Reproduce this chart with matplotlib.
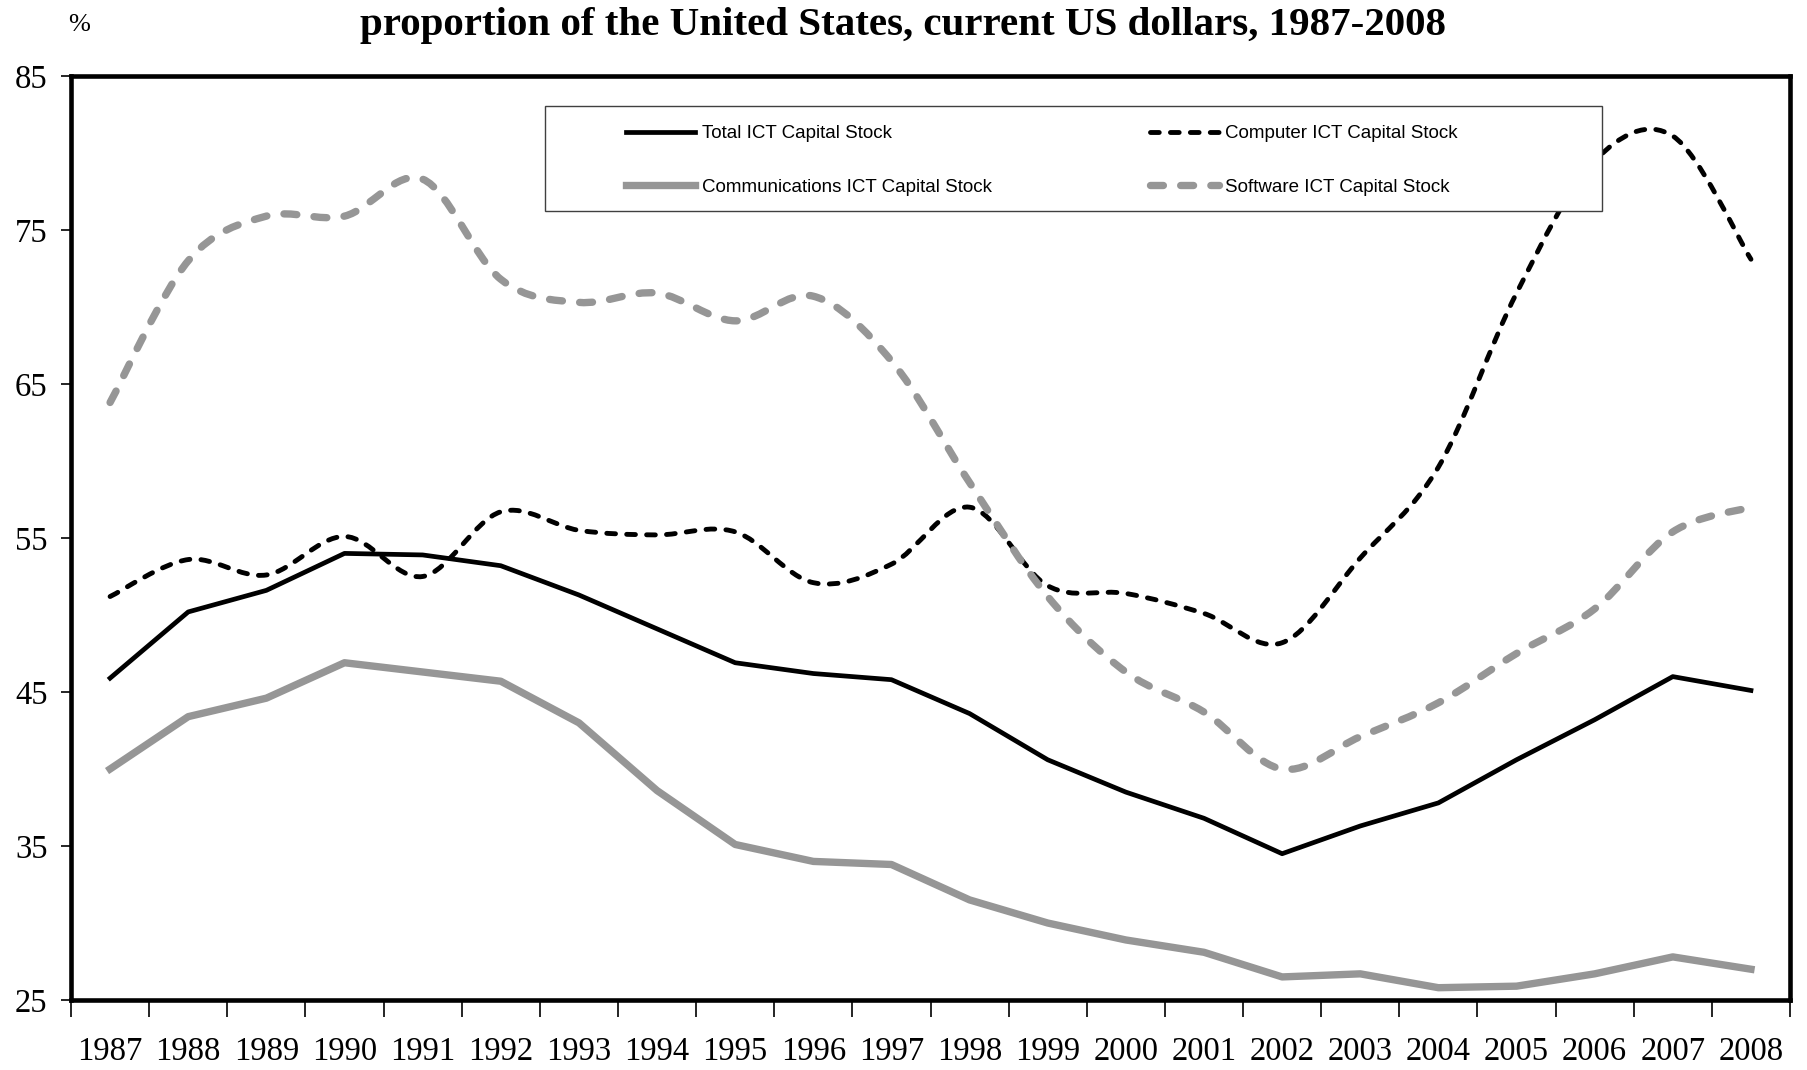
import numpy as np
import matplotlib.pyplot as plt
from matplotlib.path import Path
from matplotlib.patches import PathPatch, Rectangle
from matplotlib.lines import Line2D

# Data
years = [str(y) for y in range(1987, 2009)]
total = [45.9, 50.2, 51.6, 54.0, 53.9, 53.2, 51.3, 49.1, 46.9, 46.2, 45.8,
         43.6, 40.6, 38.5, 36.8, 34.5, 36.3, 37.8, 40.6, 43.2, 46.0, 45.1]
computer = [51.2, 53.6, 52.6, 55.1, 52.5, 56.7, 55.5, 55.2, 55.4, 52.1, 53.3,
            57.0, 51.9, 51.4, 50.1, 48.2, 53.7, 59.6, 70.9, 79.5, 81.1, 73.1]
communications = [40.0, 43.4, 44.6, 46.9, 46.3, 45.7, 43.0, 38.6, 35.1, 34.0, 33.8,
                  31.5, 30.0, 28.9, 28.1, 26.5, 26.7, 25.8, 25.9, 26.7, 27.8, 27.0]
software = [63.8, 73.0, 75.9, 75.9, 78.3, 71.8, 70.3, 70.9, 69.1, 70.7, 66.5,
            58.6, 51.2, 46.3, 43.7, 40.0, 42.1, 44.3, 47.5, 50.4, 55.4, 57.0]

grey = '#969696'


def smooth_path(xs, ys):
    # Excel-style smoothed line: cubic Bezier segments through each point
    pts = np.column_stack([xs, ys])
    n = len(pts)
    verts = [pts[0]]
    codes = [Path.MOVETO]
    for i in range(n - 1):
        p0 = pts[i - 1] if i > 0 else pts[i]
        p1 = pts[i]
        p2 = pts[i + 1]
        p3 = pts[i + 2] if i + 2 < n else pts[i + 1]
        c1 = p1 + (p2 - p0) / 6.0
        c2 = p2 - (p3 - p1) / 6.0
        verts += [c1, c2, p2]
        codes += [Path.CURVE4] * 3
    return Path(verts, codes)


fig = plt.figure(figsize=(18.07, 10.70), dpi=100)
ax = fig.add_axes([0.0393, 0.0654, 0.9513, 0.8636])

x = np.arange(len(years))

# solid series: straight segments
ax.plot(x, total, color='black', lw=3.4)
ax.plot(x, communications, color=grey, lw=5.3)

# dashed series: smoothed
comp_dash = (0, (1.8, 2.3))
soft_dash = (0, (1.75, 2.35))
ax.add_patch(PathPatch(smooth_path(x, computer), facecolor='none', edgecolor='black',
                       linewidth=3.5, linestyle=comp_dash, capstyle='round'))
ax.add_patch(PathPatch(smooth_path(x, software), facecolor='none', edgecolor=grey,
                       linewidth=5.3, linestyle=soft_dash, capstyle='round'))

handles = [
    Line2D([], [], color='black', lw=3.4, label='Total ICT Capital Stock'),
    Line2D([], [], color=grey, lw=5.3, label='Communications ICT Capital Stock'),
    Line2D([], [], color='black', lw=3.5, ls=comp_dash, dash_capstyle='round',
           label='Computer ICT Capital Stock'),
    Line2D([], [], color=grey, lw=5.3, ls=soft_dash, dash_capstyle='round',
           label='Software ICT Capital Stock'),
]

ax.set_xlim(-0.5, len(years) - 0.5)
ax.set_ylim(25, 85)
ax.set_yticks(np.arange(25, 86, 10))
ax.set_xticks(np.arange(-0.5, len(years), 1.0))
ax.set_xticklabels([])
ax.set_xticks(x, minor=True)
ax.set_xticklabels(years, minor=True)

ax.tick_params(axis='x', which='major', direction='out', length=12, width=1.2, color='black')
ax.tick_params(axis='x', which='minor', length=0, pad=26)
ax.tick_params(axis='y', direction='out', length=7, width=1.2, pad=10)
for lab in ax.get_xticklabels(minor=True) + ax.get_yticklabels():
    lab.set_fontfamily('Liberation Serif')
    lab.set_fontsize(23.5)

for sp in ax.spines.values():
    sp.set_linewidth(3.3)
    sp.set_color('black')

# legend frame and entries
ax.add_patch(Rectangle((0.2757, 0.8539), 0.615, 0.1136, transform=ax.transAxes,
                       facecolor='white', edgecolor='#404040', lw=1.0, zorder=4))
leg = ax.legend(handles=handles, ncol=2, loc='upper left',
                bbox_to_anchor=(0.3229, 0.947), frameon=False,
                prop={'family': 'Liberation Sans', 'size': 13.5},
                handlelength=3.7, handletextpad=0.35, labelspacing=1.95,
                columnspacing=8.4, borderpad=0, borderaxespad=0)
leg.set_zorder(5)

fig.text(0.5, 0.976, 'proportion of the United States, current US dollars, 1987-2008',
         ha='center', va='center', fontsize=29.5, fontweight='bold',
         family='Liberation Serif')
fig.text(0.0435, 0.977, '%', ha='center', va='center', fontsize=19,
         family='Liberation Serif')

fig.savefig('out.png', dpi=100)
